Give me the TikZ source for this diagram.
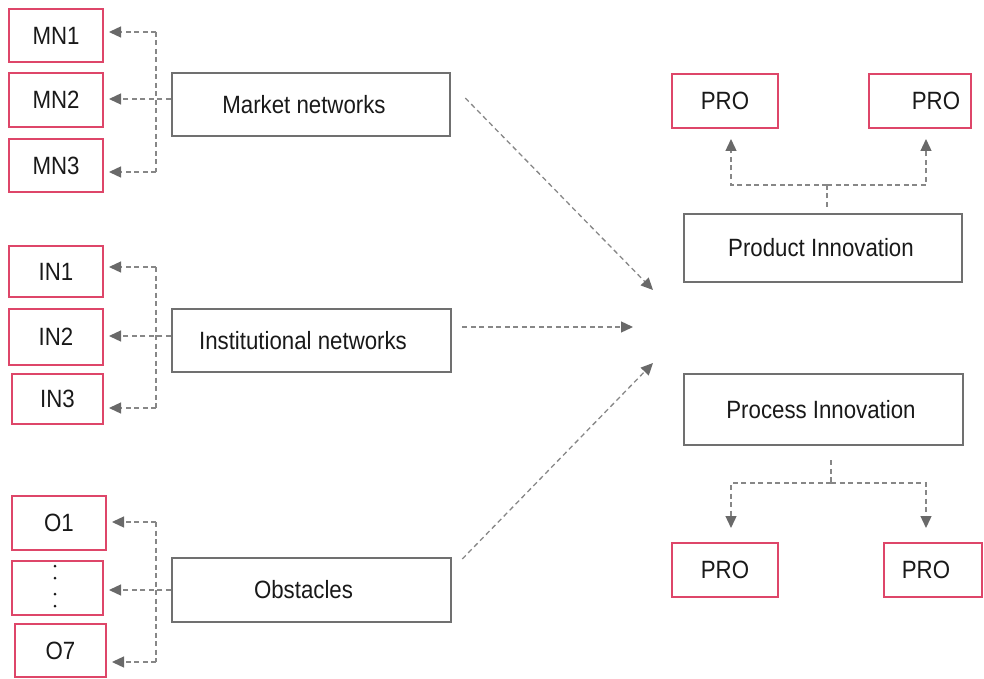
\documentclass[tikz,border=0pt]{standalone}
\usepackage{fontspec}
\setmainfont{Liberation Sans}[FakeStretch=0.89]
\usetikzlibrary{arrows.meta}
\definecolor{redb}{RGB}{222,70,105}
\definecolor{greyb}{RGB}{112,112,112}
\definecolor{dashc}{RGB}{135,135,135}
\definecolor{tipc}{RGB}{105,105,105}
\definecolor{txt}{RGB}{25,25,25}
\tikzset{
  redbox/.style={draw=redb, line width=2pt, inner sep=0pt, text=txt},
  greybox/.style={draw=greyb, line width=2.5pt, inner sep=0pt, text=txt},
  dl/.style={draw=dashc, line width=1.3pt, dash pattern=on 5pt off 3.5pt},
  arr/.style={-{Triangle[length=12pt,width=11pt,color=tipc]}, shorten >=5pt},
  dotn/.style={circle, fill=txt, inner sep=0pt, minimum size=3pt}
}
\begin{document}
\begin{tikzpicture}[x=1pt,y=-1pt,font=\fontsize{25}{30}\selectfont]
\useasboundingbox (0,0) rectangle (984,679);
% left red boxes
\node[redbox, minimum width=94pt, minimum height=53pt] (MN1) at (56,35.5) {MN1};
\node[redbox, minimum width=94pt, minimum height=54pt] (MN2) at (56,100) {MN2};
\node[redbox, minimum width=94pt, minimum height=53pt] (MN3) at (56,165.5) {MN3};
\node[redbox, minimum width=94pt, minimum height=51pt] (IN1) at (56,271.5) {IN1};
\node[redbox, minimum width=94pt, minimum height=56pt] (IN2) at (56,337) {IN2};
\node[redbox, minimum width=91pt, minimum height=50pt] (IN3) at (57.5,399) {IN3};
\node[redbox, minimum width=94pt, minimum height=54pt] (O1) at (59,523) {O1};
\node[redbox, minimum width=91pt, minimum height=54pt] (OD) at (57.5,588) {};
\node[redbox, minimum width=91pt, minimum height=53pt] (O7) at (60.5,650.5) {O7};
\node[dotn] (d1) at (55,566) {};
\node[dotn] (d2) at (55,578) {};
\node[dotn] (d3) at (55,594) {};
\node[dotn] (d4) at (55,606) {};
% grey boxes
\node[greybox, minimum width=278pt, minimum height=63pt] (mk) at (311,104.5) {\hspace*{-14pt}Market networks};
\node[greybox, minimum width=279pt, minimum height=63pt] (inst) at (311.5,340.5) {\hspace*{-17pt}Institutional networks};
\node[greybox, minimum width=279pt, minimum height=64pt] (obs) at (311.5,590) {\hspace*{-16pt}Obstacles};
\node[greybox, minimum width=278pt, minimum height=68pt] (prod) at (823,248) {\hspace*{-4pt}Product Innovation};
\node[greybox, minimum width=279pt, minimum height=71pt] (proc) at (823.5,409.5) {\hspace*{-5pt}Process Innovation};
% PRO boxes
\node[redbox, minimum width=106pt, minimum height=54pt] (P1) at (725,101) {PRO};
\node[redbox, minimum width=102pt, minimum height=54pt] (P2) at (920,101) {\hspace*{32pt}PRO};
\node[redbox, minimum width=106pt, minimum height=54pt] (P3) at (725,570) {PRO};
\node[redbox, minimum width=98pt, minimum height=54pt] (P4) at (933,570) {\hspace*{-14pt}PRO};
% market branches
\coordinate (mj) at (156,99);
\coordinate (m1) at (156,32);
\coordinate (m3) at (156,172);
\draw[dl] (m1) -- (m3);
\draw[dl,arr] (mk.west |- mj) -- (MN2.east |- mj);
\draw[dl,arr] (m1) -- (MN1.east |- m1);
\draw[dl,arr] (m3) -- (MN3.east |- m3);
% institutional branches
\coordinate (ij) at (156,336);
\coordinate (i1) at (156,267);
\coordinate (i3) at (156,408);
\draw[dl] (i1) -- (i3);
\draw[dl,arr] (inst.west |- ij) -- (IN2.east |- ij);
\draw[dl,arr] (i1) -- (IN1.east |- i1);
\draw[dl,arr] (i3) -- (IN3.east |- i3);
% obstacle branches
\coordinate (oj) at (156,590);
\coordinate (o1) at (156,522);
\coordinate (o3) at (156,662);
\draw[dl] (o1) -- (o3);
\draw[dl,arr] (obs.west |- oj) -- (OD.east |- oj);
\draw[dl,arr] (o1) -- (O1.east |- o1);
\draw[dl,arr] (o3) -- (O7.east |- o3);
% main arrows
\coordinate (t1) at (653,290);
\coordinate (t2) at (633,327);
\coordinate (t3) at (653,363);
\draw[dl,arr,shorten >=0pt] ([shift={(14pt,6.5pt)}]mk.east) -- (t1);
\draw[dl,arr,shorten >=0pt] ([shift={(10pt,13.5pt)}]inst.east) -- (t2);
\draw[dl,arr,shorten >=0pt] ([shift={(10pt,31pt)}]obs.east) -- (t3);
% product branches
\coordinate (pj) at (827,185);
\draw[dl] ([yshift=6pt]pj |- prod.north) -- (pj);
\draw[dl,arr,shorten >=10pt] (pj) -| ([xshift=6pt]P1.south);
\draw[dl,arr,shorten >=10pt] (pj) -| ([xshift=6pt]P2.south);
% process branches
\coordinate (qj) at (831,483);
\draw[dl] ([yshift=-14pt]qj |- proc.south) -- (qj);
\draw[dl,arr,shorten >=14pt] (qj) -| ([xshift=6pt]P3.north);
\draw[dl,arr,shorten >=14pt] (qj) -| ([xshift=-7pt]P4.north);
\end{tikzpicture}
\end{document}
